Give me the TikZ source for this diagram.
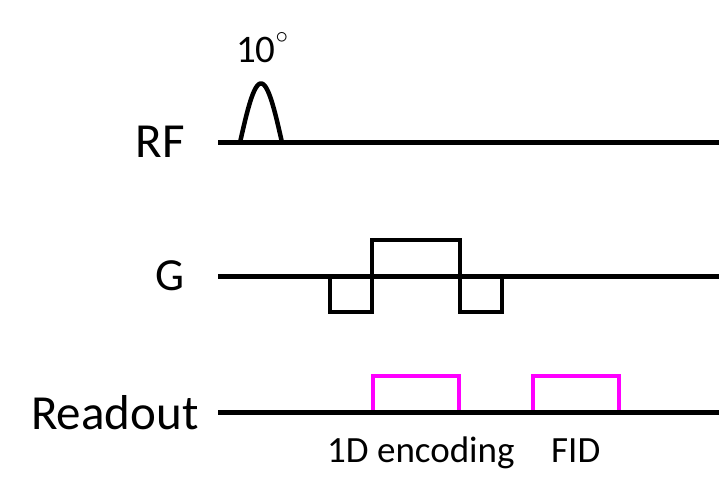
\documentclass[tikz,border=0pt]{standalone}
\usepackage{fontspec}
\setmainfont{Carlito}
\begin{document}
\begin{tikzpicture}[x=1pt,y=-1pt,
  axis/.style={line width=5pt},
  wave/.style={line width=4.5pt,line join=miter},
  readbox/.style={line width=4.5pt,draw={rgb,255:red,255;green,0;blue,255}},
  big/.style={font=\fontsize{49}{49}\selectfont},
  mid/.style={font=\fontsize{46}{46}\selectfont},
  small/.style={font=\fontsize{37}{37}\selectfont}]
\useasboundingbox (0,0) rectangle (722,495);
% axes
\coordinate (rfs) at (218,142.5); \coordinate (rfe) at (719,142.5);
\coordinate (gs) at (218,276.5); \coordinate (ge) at (719,276.5);
\coordinate (ros) at (218,412.5); \coordinate (roe) at (719,412.5);
\draw[axis] (rfs) -- (rfe);
\draw[axis] (gs) -- (ge);
\draw[axis] (ros) -- (roe);
% labels
\node[big,anchor=base east,inner sep=0] (rf) at (185,157) {RF};
\node[mid,anchor=base east,inner sep=0] (g) at (185,290) {G};
\node[big,anchor=base west,inner sep=0] (ro) at (31,429) {Readout};
\node[font=\fontsize{39}{39}\selectfont,anchor=base west,inner sep=0] (flip) at (236,63) {10\raisebox{19pt}{\fontsize{24}{24}\selectfont$\circ$}};
\node[small,anchor=base west,inner sep=0] (enc) at (327,462) {1D encoding};
\node[small,anchor=base west,inner sep=0] (fid) at (551,462) {FID};
% RF pulse
\draw[wave,line cap=round] plot[domain=0:180,samples=60,smooth] ({240+42*\x/180},{142.5-59*sin(\x)});
% gradient
\draw[wave] (330,276.5) -- (330,312) -- (372,312) -- (372,240) -- (460,240) -- (460,312) -- (502,312) -- (502,276.5);
% readout windows
\draw[readbox] (373,412.5) -- (373,376) -- (459,376) -- (459,412.5);
\draw[readbox] (533,412.5) -- (533,376) -- (619,376) -- (619,412.5);
\draw[axis] (ros) -- (roe);
\end{tikzpicture}
\end{document}
